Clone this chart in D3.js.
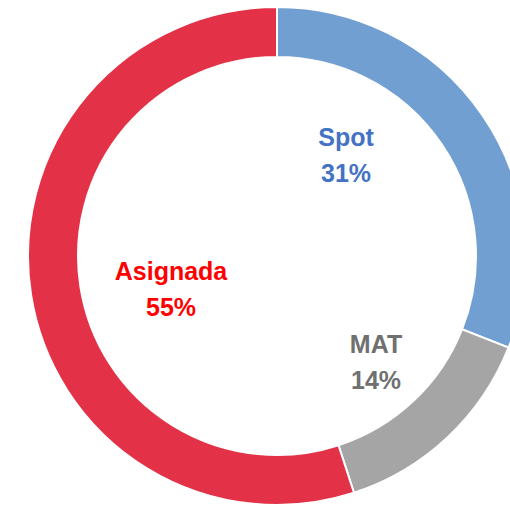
<!DOCTYPE html>
<html>
<head>
<meta charset="utf-8">
<script src="https://cdn.jsdelivr.net/npm/d3@7"></script>
<style>
  html, body { margin: 0; padding: 0; background: #fff; overflow: hidden; }
  svg { display: block; }
  .lbl { font-family: "Liberation Sans", Arial, sans-serif; font-weight: bold; font-size: 25px; }
</style>
</head>
<body>
<svg id="chart"></svg>
<script>
// data
const categories = ['Spot', 'MAT', 'Asignada']
const shares = [31, 14, 55]
const sliceColors = ['#729fd2', '#a5a5a5', '#e33247']
const textColors = ['#4472c4', '#707070', '#ff0000']

const width = 510
const height = 505
const cx = 277, cy = 256
const outerR = 249, innerR = 199

// label placement (offset from center, px) as excel places them
const labelOffsets = [[69, -101], [99, 106], [-106, 33]]

const svg = d3.select('#chart')
  .attr('width', width)
  .attr('height', height)

const pie = d3.pie().sort(null).value(d => d)
const arc = d3.arc().innerRadius(innerR).outerRadius(outerR)

const g = svg.append('g').attr('transform', `translate(${cx},${cy})`)

g.selectAll('path')
  .data(pie(shares))
  .join('path')
  .attr('d', arc)
  .attr('fill', (d, i) => sliceColors[i])
  .attr('stroke', '#fff')
  .attr('stroke-width', 2)

const labels = g.selectAll('text')
  .data(categories)
  .join('text')
  .attr('class', 'lbl')
  .attr('text-anchor', 'middle')
  .attr('fill', (d, i) => textColors[i])
  .attr('transform', (d, i) => `translate(${labelOffsets[i][0]},${labelOffsets[i][1]})`)

labels.append('tspan')
  .attr('x', 0).attr('y', -9)
  .text(d => d)

labels.append('tspan')
  .attr('x', 0).attr('y', 27)
  .text((d, i) => shares[i] + '%')
</script>
</body>
</html>
